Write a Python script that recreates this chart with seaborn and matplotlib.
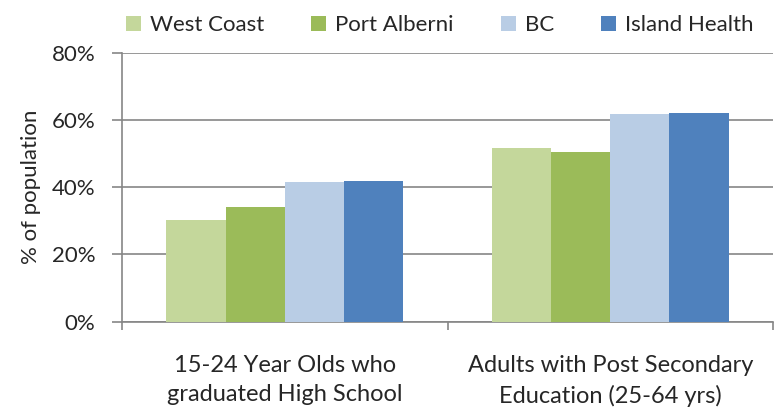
import pandas as pd
import matplotlib
matplotlib.use('Agg')
import matplotlib.pyplot as plt
import seaborn as sns
from matplotlib.ticker import FixedLocator, PercentFormatter

# 데이터
categories = ['15-24 Year Olds who\ngraduated High School',
              'Adults with Post Secondary\nEducation (25-64 yrs)']
regions = ['West Coast', 'Port Alberni', 'BC', 'Island Health']
west_coast = [30.1, 51.7]
port_alberni = [34.1, 50.4]
bc = [41.5, 61.9]
island_health = [42.0, 62.1]
colors = ['#C4D79B', '#9BBB59', '#B9CDE5', '#4F81BD']

rows = []
for name, vals in zip(regions, [west_coast, port_alberni, bc, island_health]):
    for cat, v in zip(categories, vals):
        rows.append({'category': cat, 'region': name, 'value': v})
df = pd.DataFrame(rows)

sns.set_style('white')
plt.rcParams['font.family'] = ['Lato', 'DejaVu Sans']

fig = plt.figure(figsize=(7.78, 4.08), dpi=100)
ax = fig.add_axes([122 / 778, 1 - 321.5 / 408, 651 / 778, 268.5 / 408])

sns.barplot(data=df, x='category', y='value', hue='region', hue_order=regions,
            palette=colors, width=0.727, gap=0, linewidth=0, saturation=1,
            ax=ax, zorder=3)

ax.set_ylim(0, 80)
ax.set_xlim(-0.5, 1.5)
ax.yaxis.set_major_locator(FixedLocator([0, 20, 40, 60, 80]))
ax.yaxis.set_major_formatter(PercentFormatter(decimals=0))
ax.grid(axis='y', color='#868686', linewidth=1.2, zorder=0)
ax.set_axisbelow(True)

for s in ['top', 'right']:
    ax.spines[s].set_visible(False)
for s in ['left', 'bottom']:
    ax.spines[s].set_color('#868686')
    ax.spines[s].set_linewidth(1.2)

ax.tick_params(axis='y', direction='out', length=7, color='#868686', width=1.2,
               labelsize=16, pad=12, left=True)
ax.tick_params(axis='x', which='major', length=0, labelsize=17, pad=24)
ax.xaxis.set_minor_locator(FixedLocator([-0.5, 0.5, 1.5]))
ax.tick_params(axis='x', which='minor', direction='out', length=6, color='#868686',
               width=1.2, bottom=True)
for lbl in ax.get_xticklabels():
    lbl.set_linespacing(1.5)

ax.set_xlabel('')
ax.set_ylabel('% of population', fontsize=16, labelpad=8)

handles, labels = ax.get_legend_handles_labels()
ax.legend(handles, labels, loc='center', bbox_to_anchor=(0.488, 1.104), ncol=4,
          frameon=False, fontsize=16, handlelength=0.7, handleheight=0.7,
          handletextpad=0.4, columnspacing=2.1)

fig.savefig('out.png', dpi=100)
